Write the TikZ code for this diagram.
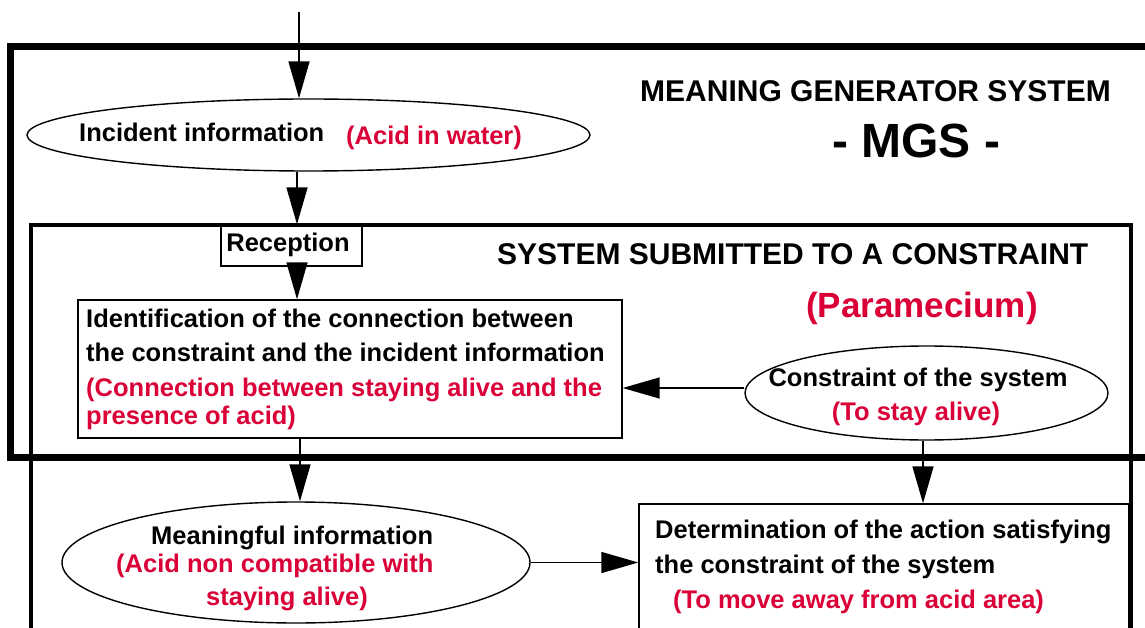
\documentclass[tikz,border=0pt]{standalone}
\usepackage{fontspec}
\setmainfont{Liberation Sans}
\usetikzlibrary{shapes.geometric,arrows.meta}
\definecolor{acid}{RGB}{218,0,55}
\begin{document}
\begin{tikzpicture}[x=1pt,y=-1pt,
  txt/.style={font=\bfseries\fontsize{25.5}{30}\selectfont, inner sep=0pt, anchor=base west},
  rtxt/.style={txt, text=acid},
  bigtxt/.style={font=\bfseries\fontsize{30}{36}\selectfont},
  box/.style={draw, line width=1.4pt, fill=white, inner sep=0pt},
  ell/.style={draw, ellipse, line width=1.4pt, fill=white, inner sep=0pt},
  conn/.style={line width=1.5pt, -{Triangle[length=37pt,width=21pt]}},
  outerframe/.style={line width=7pt},
  innerframe/.style={line width=3.5pt}]
\useasboundingbox (0,0) rectangle (1145,628);
\clip (0,0) rectangle (1145,628);

% shapes
\node[ell, minimum width=563pt, minimum height=72pt] (inc) at (308.5,135) {};
\node[box, minimum width=141pt, minimum height=41pt] (rec) at (291.5,245.5) {};
\node[box, minimum width=544pt, minimum height=138pt] (ident) at (350,369) {};
\node[ell, minimum width=363pt, minimum height=94pt] (cons) at (926.5,393) {};
\node[ell, minimum width=468pt, minimum height=121pt] (mean) at (296,562.5) {};
\node[box, minimum width=490pt, minimum height=216pt] (det) at (884,612) {};

% texts
\node[txt] (tinc) at (79,142) {Incident information};
\node[rtxt] (tacid) at (346,145) {(Acid in water)};
\node[txt, anchor=base] (trec) at (288,252) {Reception};
\node[txt] (tid1) at (86,327) {Identification of the connection between};
\node[txt] (tid2) at (86,361) {the constraint and the incident information};
\node[rtxt] (tid3) at (86,396) {(Connection between staying alive and the};
\node[rtxt] (tid4) at (86,424) {presence of acid)};
\node[txt, anchor=base] (tc1) at (918,386) {Constraint of the system};
\node[rtxt, anchor=base] (tc2) at (916,420) {(To stay alive)};
\node[txt] (tm1) at (151,544) {Meaningful information};
\node[rtxt] (tm2) at (116,572) {(Acid non compatible with};
\node[rtxt] (tm3) at (206,605) {staying alive)};
\node[txt] (td1) at (655,538) {Determination of the action satisfying};
\node[txt] (td2) at (655,573) {the constraint of the system};
\node[rtxt] (td3) at (673,608) {(To move away from acid area)};
\node[txt, bigtxt] (tmgs1) at (640,102) {MEANING GENERATOR SYSTEM};
\node[txt, font=\bfseries\fontsize{48}{56}\selectfont] (tmgs2) at (832,158) {- MGS -};
\node[txt, bigtxt] (tssc) at (497,265) {SYSTEM SUBMITTED TO A CONSTRAINT};
\node[rtxt, font=\bfseries\fontsize{35}{42}\selectfont] (tpar) at (806,317) {(Paramecium)};

% connectors
\coordinate (in) at (299,12);
\coordinate (c1) at (297,0);
\coordinate (c2) at (300,0);
\coordinate (c3) at (0,388);
\coordinate (c4) at (923,0);
\draw[conn] (in) -- (in |- inc.north);
\draw[conn] (inc.south -| c1) -- (rec.north -| c1);
\draw[conn] (rec.south -| c1) -- (ident.north -| c1);
\draw[conn] (ident.south -| c2) -- (mean.north -| c2);
\draw[conn] (cons.west |- c3) -- (ident.east |- c3);
\draw[conn] (cons.south -| c4) -- (det.north -| c4);
\draw[conn] (mean.east) -- (det.west |- mean.east);

% frames
\draw[outerframe] (10.5,47) rectangle (1180,457);
\draw[innerframe] (31,225) rectangle (1131,720);
\end{tikzpicture}
\end{document}
